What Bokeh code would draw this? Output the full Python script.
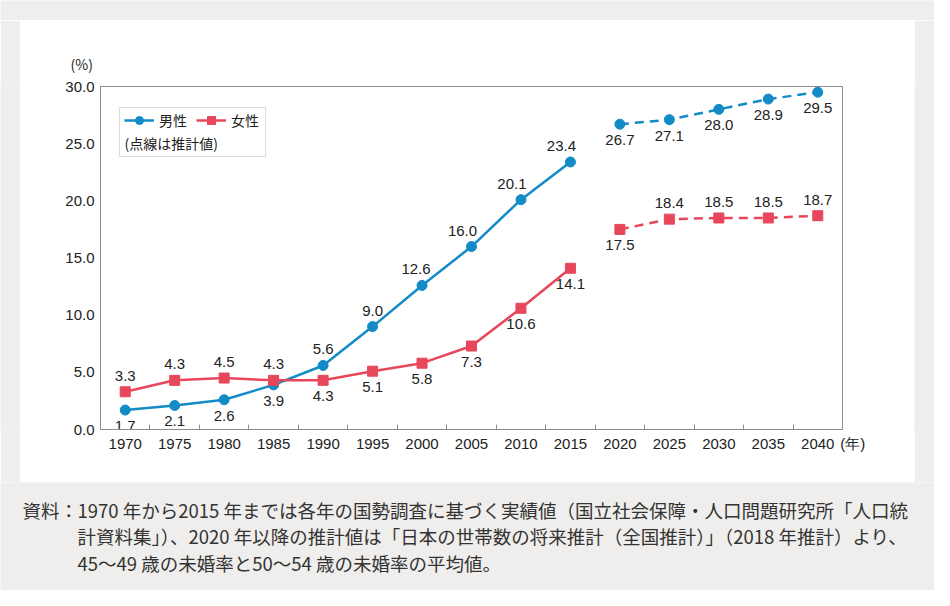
from bokeh.plotting import figure
from bokeh.models import (Range1d, FixedTicker, Legend, LegendItem, BoxAnnotation,
                          Label, ColumnDataSource, NumeralTickFormatter, CustomJSTickFormatter)
from bokeh.layouts import column, row
from bokeh.embed import file_html
from bokeh.resources import INLINE
from bokeh.core.properties import value

# ---------------- data ----------------
years = [1970, 1975, 1980, 1985, 1990, 1995, 2000, 2005, 2010, 2015,
         2020, 2025, 2030, 2035, 2040]
male = [1.7, 2.1, 2.6, 3.9, 5.6, 9.0, 12.6, 16.0, 20.1, 23.4,
        26.7, 27.1, 28.0, 28.9, 29.5]
female = [3.3, 4.3, 4.5, 4.3, 4.3, 5.1, 5.8, 7.3, 10.6, 14.1,
          17.5, 18.4, 18.5, 18.5, 18.7]
n_actual = 10          # 1970-2015: 実績値, 2020-: 推計値
y_ticks = [0, 5, 10, 15, 20, 25, 30]
series_names = ["男性", "女性"]
legend_note = "(点線は推計値)"
y_unit = "(%)"
x_unit = "(年)"
caption_head = "資料："
caption_lines = [
    "1970 年から2015 年までは各年の国勢調査に基づく実績値（国立社会保障・人口問題研究所「人口統",
    "計資料集」）、2020 年以降の推計値は「日本の世帯数の将来推計（全国推計）」（2018 年推計）より、",
    "45～49 歳の未婚率と50～54 歳の未婚率の平均値。",
]

# ---------------- styles ----------------
BLUE = "#138bc7"
RED = "#e8475b"
AXIS = "#8c8c8c"
TXT = "#222222"
BG = "#efeeec"
JP = "Noto Sans CJK JP"
NUM = "Liberation Sans"

# label placement (style): -1 above, +1 below
male_side = [1, 1, 1, 1, -1, -1, -1, -1, -1, -1, 1, 1, 1, 1, 1]
female_side = [-1, -1, -1, -1, 1, 1, 1, 1, 1, 1, 1, -1, -1, -1, -1]
male_dx = [0, 0, 0, 0, 0, 0, -6, -9, -9, -9, 0, 0, 0, 0, 0]
female_dx = [0] * 15
LABEL_DY = 16

W_PANEL, H_PANEL = 894, 462
PAD = 20
W_ALL = W_PANEL + 2 * PAD
H_CAP = 108

X0, X1 = years[0] - 2.5, years[-1] + 2.5
unit_tick = X1 - 0.1   # slot at the right end of the axis for the "(年)" unit

p = figure(width=W_PANEL, height=H_PANEL, output_backend="svg", toolbar_location=None,
           x_range=Range1d(X0, X1), y_range=Range1d(0, 30),
           min_border_left=80, min_border_right=72, min_border_top=66, min_border_bottom=53,
           border_fill_color="white", background_fill_color="white")
p.grid.visible = False
p.outline_line_color = AXIS
p.outline_line_width = 1

# "(%)" as a left-aligned title above the frame
p.title.text = y_unit
p.title.align = "left"
p.title.offset = -30
p.title.standoff = 26
p.title.text_font = JP
p.title.text_font_size = "14px"
p.title.text_font_style = "normal"
p.title.text_color = TXT

# axes
p.xaxis.ticker = FixedTicker(ticks=years + [unit_tick],
                             minor_ticks=[y + 2.5 for y in years[:-1]])
p.xaxis.formatter = CustomJSTickFormatter(
    args=dict(unit=x_unit, last=years[-1]),
    code="return tick > last + 1 ? '\\u2003\\u2002' + unit : tick.toFixed(0);")
p.xaxis.major_tick_in = 0
p.xaxis.major_tick_out = 0
p.xaxis.minor_tick_in = 5
p.xaxis.minor_tick_out = 0
p.xaxis.minor_tick_line_color = AXIS
p.xaxis.major_label_standoff = 5
p.yaxis.ticker = FixedTicker(ticks=y_ticks)
p.yaxis.formatter = NumeralTickFormatter(format="0.0")
p.yaxis.major_tick_in = 0
p.yaxis.major_tick_out = 0
p.yaxis.minor_tick_line_color = None
p.yaxis.major_label_standoff = 6
for ax in (p.xaxis, p.yaxis):
    ax.axis_line_color = AXIS
    ax.major_label_text_font = NUM
    ax.major_label_text_font_size = "15px"
    ax.major_label_text_color = TXT

renderers = {}
for name, vals, color, marker, side, dx in (
        ("男性", male, BLUE, "circle", male_side, male_dx),
        ("女性", female, RED, "square", female_side, female_dx)):
    act = ColumnDataSource(dict(x=years[:n_actual], y=vals[:n_actual]))
    prj = ColumnDataSource(dict(x=years[n_actual:], y=vals[n_actual:]))
    allsrc = ColumnDataSource(dict(x=years, y=vals,
                                   t=["%.1f" % v for v in vals],
                                   dy=[s * LABEL_DY for s in side], dx=dx))
    l1 = p.line("x", "y", source=act, line_color=color, line_width=2.5)
    p.line("x", "y", source=prj, line_color=color, line_width=2.5, line_dash="9 6")
    pts = p.scatter("x", "y", source=allsrc, marker=marker, size=10,
                    fill_color=color, line_color=color)
    p.text("x", "y", text="t", source=allsrc, x_offset="dx", y_offset="dy",
           text_align="center", text_baseline="middle",
           text_font=value(NUM), text_font_size="15px", text_color=TXT)
    renderers[name] = [l1, pts]

legend = Legend(items=[LegendItem(label=n, renderers=renderers[n]) for n in series_names],
                orientation="horizontal", location="top_left",
                margin=24, padding=0, spacing=9, label_standoff=5,
                glyph_width=30, glyph_height=20,
                border_line_color=None, background_fill_alpha=0,
                label_text_font=JP, label_text_font_size="14px", label_text_color=TXT)
p.add_layout(legend)
p.add_layout(BoxAnnotation(left=1969.42, right=1984.18, top=28.16, bottom=23.88,
                           fill_alpha=0, line_color=AXIS, line_width=1))
p.add_layout(Label(x=1969.93, y=25.1, text=legend_note, text_baseline="middle",
                   text_font=JP, text_font_size="14px", text_color=TXT))


def strip(w, h):
    f = figure(width=w, height=h, output_backend="svg", toolbar_location=None,
               x_range=Range1d(0, w), y_range=Range1d(h, 0),
               x_axis_type=None, y_axis_type=None, min_border=0,
               border_fill_color=BG, background_fill_color=BG, outline_line_color=None)
    f.grid.visible = False
    return f


top = strip(W_ALL, PAD)
left = strip(PAD, H_PANEL)
right = strip(PAD, H_PANEL)
cap = strip(W_ALL, H_CAP)
cap.add_layout(Label(x=22, y=27, text=caption_head, text_baseline="middle",
                     text_font=JP, text_font_size="18.5px", text_color="#333333"))
for i, line in enumerate(caption_lines):
    cap.add_layout(Label(x=77, y=27 + 26.5 * i, text=line, text_baseline="middle",
                         text_font=JP, text_font_size="18.5px", text_color="#333333"))

layout = column(top, row(left, p, right), cap)
open("out.html", "w").write(file_html(layout, INLINE))
